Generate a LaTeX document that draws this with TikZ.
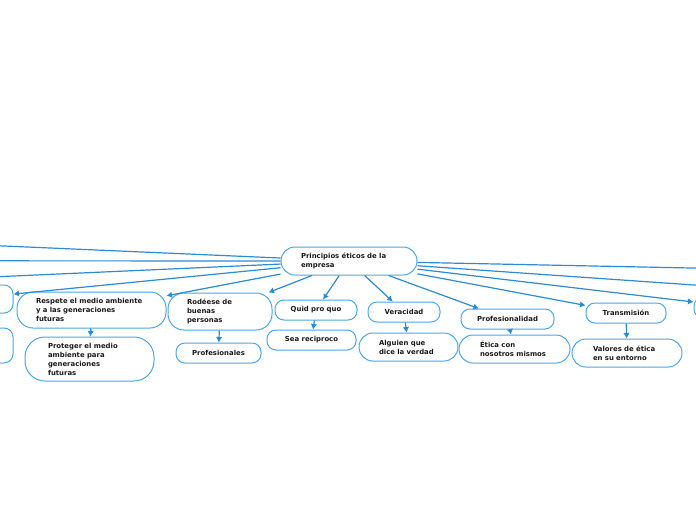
\documentclass[tikz,border=0pt]{standalone}
\usepackage{fontspec}
\setmainfont{DejaVu Sans}
\usetikzlibrary{arrows.meta}
\definecolor{linkblue}{HTML}{2A8BD6}
\definecolor{boxblue}{HTML}{4BA6E6}
\definecolor{ink}{HTML}{1A1A1A}

\begin{document}
\begin{tikzpicture}[x = 1pt, y = -1pt,
        topic/.style = {draw = boxblue, line width = 1pt, rounded corners = 9pt,
            font = \fontsize{6.9}{9}\selectfont\bfseries, text = ink,
            inner xsep = 6pt, inner ysep = 0pt, minimum height = 20pt},
        note/.style = {topic, align = left, inner xsep = 20pt, rounded corners = 14pt},
        link/.style = {draw = linkblue, line width = 1.2pt,
            -{Latex[length = 5.5pt, width = 6.5pt]}}]
        \useasboundingbox (0, 0) rectangle (696, 520);
        % main topic
        \node[note, text width = 96pt, minimum height = 28pt]
            at (349, 261) (root) {Principios éticos de la\\empresa};
        % first level
        \node[topic, minimum width = 100pt, minimum height = 28pt] at (-37, 299) (left_a) {};
        \node[topic, minimum width = 100pt, minimum height = 35pt] at (-37, 345.5) (left_b) {};
        \node[note, inner xsep = 19pt, text width = 111pt, minimum height = 36pt, rounded corners = 16pt]
            at (91.5, 310) (medio) {Respete el medio ambiente\\y a las generaciones\\futuras};
        \node[note, inner xsep = 19pt, text width = 66pt, minimum height = 37pt, rounded corners = 16pt]
            at (220, 311.5) (rodeese) {Rodéese de\\buenas\\personas};
        \node[topic, minimum width = 82pt] at (316, 310) (quid) {Quid pro quo};
        \node[topic, minimum width = 72pt] at (404, 312) (veracidad) {Veracidad};
        \node[topic, minimum width = 93pt] at (507.5, 319) (profesionalidad) {Profesionalidad};
        \node[topic, minimum width = 80pt] at (626, 313) (transmision) {Transmisión};
        \node[topic, minimum width = 92pt, minimum height = 21pt] at (740, 307.5) (right_a) {};
        % second level
        \node[note, inner xsep = 23pt, text width = 83pt, minimum height = 44pt, rounded corners = 20pt]
            at (89.5, 359) (proteger) {Proteger el medio\\ambiente para\\generaciones\\futuras};
        \node[topic, minimum width = 85pt] at (218.5, 353) (profesionales) {Profesionales};
        \node[topic, minimum width = 89pt] at (311.5, 340) (reciproco) {Sea reciproco};
        \node[note, text width = 59pt, minimum height = 28pt]
            at (408.5, 347) (alguien) {Alguien que\\dice la verdad};
        \node[note, inner xsep = 21pt, text width = 69pt, minimum height = 28pt]
            at (514.5, 349) (etica) {Ética con\\nosotros mismos};
        \node[note, inner xsep = 21pt, text width = 68pt, minimum height = 28pt]
            at (627, 353) (valores) {Valores de ética\\en su entorno};
        % topics off the page
        \coordinate (off_l1) at (-60, 243.2);
        \coordinate (off_l2) at (-60, 260.8);
        \coordinate (off_l3) at (-60, 279.3);
        \coordinate (off_r1) at (760, 269.4);
        \coordinate (off_r2) at (760, 289.6);
        \draw[link] (root) -- (off_l1);
        \draw[link] (root) -- (off_l2);
        \draw[link] (root) -- (off_l3);
        \draw[link] (root) -- (off_r1);
        \draw[link] (root) -- (off_r2);
        \draw[link] (root) -- (left_a);
        \draw[link] (root) -- (medio);
        \draw[link] (root) -- (rodeese);
        \draw[link] (root) -- (quid);
        \draw[link] (root) -- (veracidad);
        \draw[link] (root) -- (profesionalidad);
        \draw[link] (root) -- (transmision);
        \draw[link] (root) -- (right_a);
        \draw[link] (left_a) -- (left_b);
        \draw[link] (medio) -- (proteger);
        \draw[link] (rodeese) -- (profesionales);
        \draw[link] (quid) -- (reciproco);
        \draw[link] (veracidad) -- (alguien);
        \draw[link] (profesionalidad) -- (etica);
        \draw[link] (transmision) -- (valores);
\end{tikzpicture}
\end{document}
